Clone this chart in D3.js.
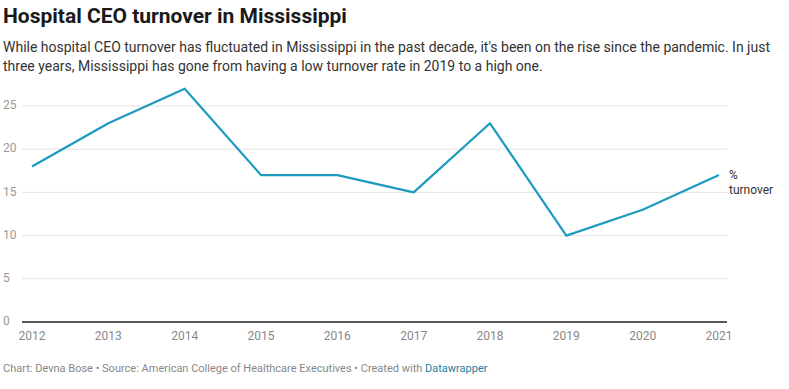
<!DOCTYPE html>
<html>
<head>
<meta charset="utf-8">
<script src="https://cdn.jsdelivr.net/npm/d3@7"></script>
<style>
  body { margin: 0; background: #fff; font-family: Roboto, sans-serif; }
  svg { display: block; }
</style>
</head>
<body>
<script>
var years = [2012, 2013, 2014, 2015, 2016, 2017, 2018, 2019, 2020, 2021];
var turnover = [18, 23, 27, 17, 17, 15, 23, 10, 13, 17];
var yTicks = [0, 5, 10, 15, 20, 25];

var width = 789, height = 389;
var svg = d3.select("body").append("svg").attr("width", width).attr("height", height);

// title + description
svg.append("text").text("Hospital CEO turnover in Mississippi")
  .attr("x", 3).attr("y", 23)
  .attr("font-size", "21px").attr("font-weight", "bold").attr("fill", "#1a1a1a");

var desc = ["While hospital CEO turnover has fluctuated in Mississippi in the past decade, it's been on the rise since the pandemic. In just",
            "three years, Mississippi has gone from having a low turnover rate in 2019 to a high one."];
svg.selectAll("text.desc")
  .data(desc)
  .enter().append("text")
    .attr("class", "desc")
    .text(function(d){ return d; })
    .attr("x", 3)
    .attr("y", function(d,i){ return 52 + i*19; })
    .attr("font-size", "14px")
    .attr("fill", "#333");

var x = d3.scaleLinear().domain([2012, 2021]).range([32, 719]);
var y = d3.scaleLinear().domain([0, 25]).range([322, 106]);

// grid
svg.selectAll("line.grid")
  .data(yTicks.slice(1))
  .enter().append("line")
    .attr("class", "grid")
    .attr("x1", 22).attr("x2", 727)
    .attr("y1", function(d){ return y(d); })
    .attr("y2", function(d){ return y(d); })
    .attr("stroke", "#e3e3e3").attr("stroke-width", 1);

svg.selectAll("text.ytick")
  .data(yTicks)
  .enter().append("text")
    .attr("class", "ytick")
    .text(function(d){ return d; })
    .attr("x", 3)
    .attr("y", function(d){ return y(d); })
    .attr("dominant-baseline", "middle")
    .attr("font-size", "12px")
    .attr("fill", "#999");

// baseline
svg.append("line")
  .attr("x1", 22).attr("x2", 727)
  .attr("y1", y(0)).attr("y2", y(0))
  .attr("stroke", "#222").attr("stroke-width", 1.3);

svg.selectAll("text.xtick")
  .data(years)
  .enter().append("text")
    .attr("class", "xtick")
    .text(function(d){ return d; })
    .attr("x", function(d){ return x(d); })
    .attr("y", 340)
    .attr("text-anchor", "middle")
    .attr("font-size", "12px")
    .attr("fill", "#888");

// line
var line = d3.line()
  .x(function(d,i){ return x(years[i]); })
  .y(function(d){ return y(d); });

svg.append("path")
  .datum(turnover)
  .attr("d", line)
  .attr("fill", "none")
  .attr("stroke", "#1d9ac0")
  .attr("stroke-width", 2.2)
  .attr("stroke-linejoin", "round");

// end label
var last = turnover[turnover.length - 1];
svg.append("text").text("%")
  .attr("x", 729).attr("y", y(last) + 4)
  .attr("font-size", "12px").attr("fill", "#333");
svg.append("text").text("turnover")
  .attr("x", 729).attr("y", y(last) + 19)
  .attr("font-size", "12px").attr("fill", "#333");

// footer
var foot = svg.append("text")
  .attr("x", 3).attr("y", 372)
  .attr("font-size", "11px").attr("fill", "#888");
foot.append("tspan").text("Chart: Devna Bose \u2022 Source: American College of Healthcare Executives \u2022 Created with ");
foot.append("tspan").text("Datawrapper").attr("fill", "#1d81a2");
</script>
</body>
</html>
